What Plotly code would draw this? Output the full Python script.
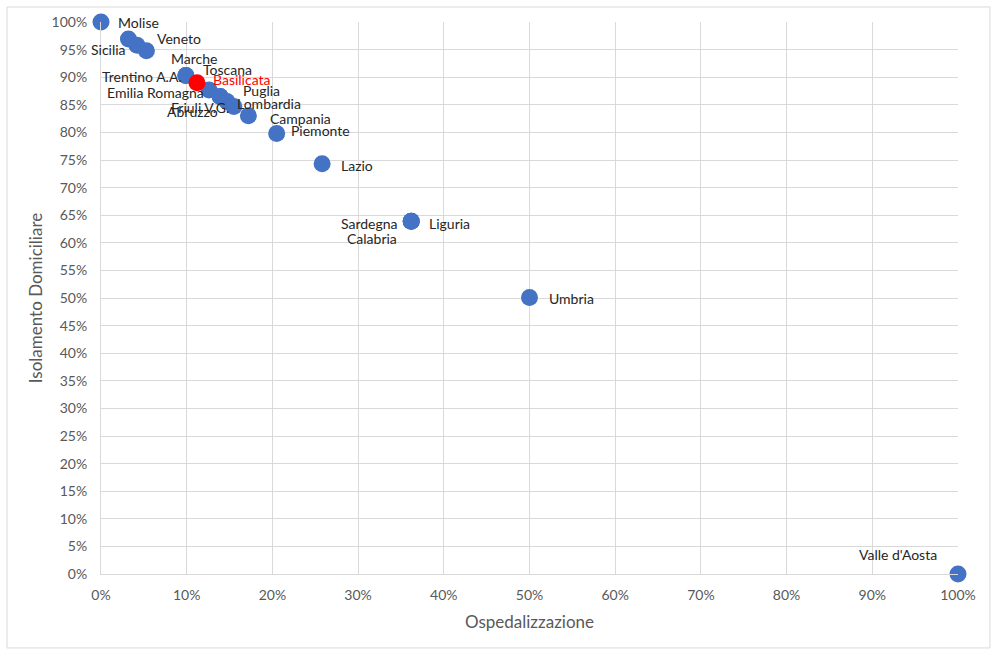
import plotly.graph_objects as go

regions = ["Molise", "Sicilia", "Veneto", "Toscana", "Trentino A.A.", "Marche",
           "Basilicata", "Emilia Romagna", "Friuli V.G.", "Abruzzo", "Puglia",
           "Lombardia", "Campania", "Piemonte", "Lazio", "Liguria", "Sardegna",
           "Calabria", "Umbria", "Valle d'Aosta"]
ospedalizzazione = [0.000, 0.032, 0.042, 0.053, 0.099, 0.099, 0.112, 0.126, 0.139,
                    0.139, 0.147, 0.155, 0.172, 0.205, 0.258, 0.362, 0.362, 0.362,
                    0.500, 1.000]
isolamento = [1.000, 0.969, 0.958, 0.948, 0.903, 0.903, 0.890, 0.877, 0.865,
              0.865, 0.856, 0.847, 0.830, 0.798, 0.743, 0.639, 0.639, 0.639,
              0.501, 0.000]

# label placement (pixel offsets from the point, anchor)
label_style = {
    "Molise": (15, 0, "left"),
    "Sicilia": (0, -10, "right"),
    "Veneto": (18, 7, "left"),
    "Toscana": (55, -19, "left"),
    "Trentino A.A.": (-2, -1, "right"),
    "Marche": (8, 17, "center"),
    "Basilicata": (14, 3, "left"),
    "Emilia Romagna": (-3, -3, "right"),
    "Friuli V.G.": (-20, -11, "center"),
    "Abruzzo": (-28, -15, "center"),
    "Puglia": (14, 11, "left"),
    "Lombardia": (1, 3, "left"),
    "Campania": (20, -3, "left"),
    "Piemonte": (12, 3, "left"),
    "Lazio": (17, -2, "left"),
    "Liguria": (16, -2, "left"),
    "Sardegna": (-11, -2, "right"),
    "Calabria": (-39, -17, "center"),
    "Umbria": (17, -1, "left"),
    "Valle d'Aosta": (-60, 20, "center"),
}

highlight = "Basilicata"
colors = ["#FF0000" if r == highlight else "#4472C4" for r in regions]

order = [i for i, r in enumerate(regions) if r != highlight] + [regions.index(highlight)]

fig = go.Figure()
fig.add_trace(go.Scatter(
    x=[ospedalizzazione[i] for i in order],
    y=[isolamento[i] for i in order],
    mode="markers",
    marker=dict(size=17, color=[colors[i] for i in order], line=dict(width=0)),
    text=[regions[i] for i in order],
    hoverinfo="text",
    cliponaxis=False,
    showlegend=False,
))

FONT = "Lato, 'Open Sans', sans-serif"
for r, xv, yv in zip(regions, ospedalizzazione, isolamento):
    dx, dy, anc = label_style[r]
    fig.add_annotation(
        x=xv, y=yv, xref="x", yref="y", text=r, showarrow=False,
        xanchor=anc, yanchor="middle", xshift=dx, yshift=dy,
        font=dict(family=FONT, size=14, color="#FF0000" if r == highlight else "#262626"),
    )

fig.add_shape(type="rect", xref="paper", yref="paper",
              x0=-0.1097, x1=1.0373, y0=-0.134, y1=1.0272,
              line=dict(color="#D9D9D9", width=1), fillcolor="rgba(0,0,0,0)", layer="below")

fig.update_layout(
    width=999, height=656,
    margin=dict(l=101, r=41, t=22, b=82),
    paper_bgcolor="white", plot_bgcolor="white",
    font=dict(family=FONT, color="#595959", size=14),
    xaxis=dict(range=[0, 1], dtick=0.1, tickformat=".0%", showgrid=True,
               gridcolor="#D9D9D9", zeroline=False, showline=True, linecolor="#D9D9D9",
               ticks="", ticklabelstandoff=8, tickfont=dict(size=14, color="#595959"),
               title=dict(text="Ospedalizzazione", font=dict(size=17, color="#595959"), standoff=14)),
    yaxis=dict(range=[0, 1], dtick=0.05, tickformat=".0%", showgrid=True,
               gridcolor="#D9D9D9", zeroline=False, showline=True, linecolor="#D9D9D9",
               ticks="", ticklabelstandoff=10, tickfont=dict(size=14, color="#595959"),
               title=dict(text="Isolamento Domiciliare", font=dict(size=17, color="#595959"), standoff=4)),
)

fig.write_html("out.html")
